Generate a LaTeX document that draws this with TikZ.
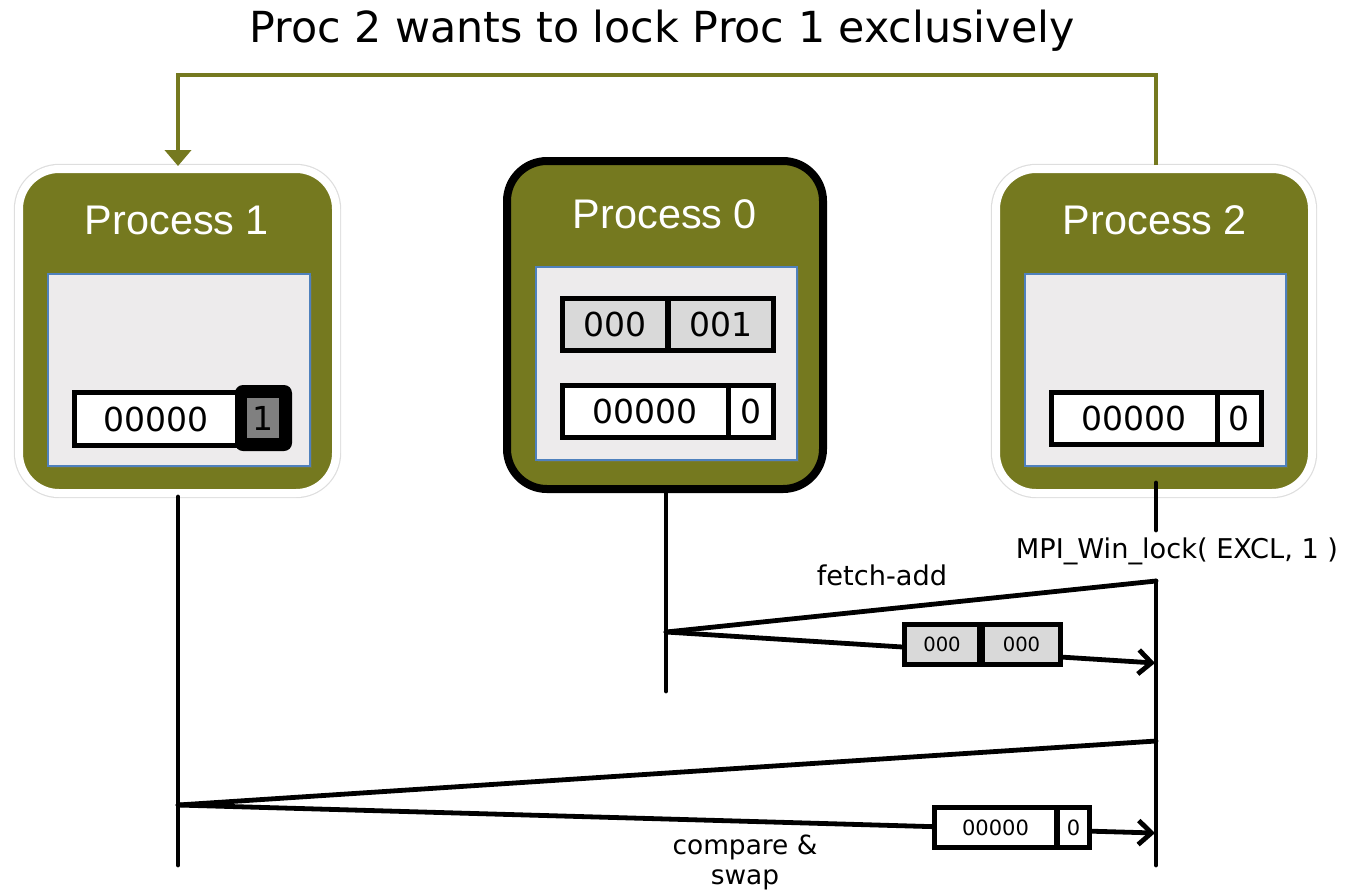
\documentclass[tikz,border=0pt]{standalone}
\usepackage{fontspec}
\setmainfont{DejaVu Sans}
\newfontfamily\arialfont{Liberation Sans}
\usetikzlibrary{arrows.meta,shadows}
\definecolor{olive}{RGB}{117,121,31}
\definecolor{memgray}{RGB}{237,235,236}
\definecolor{memblue}{RGB}{79,129,189}
\definecolor{cellgray}{RGB}{217,217,217}
\definecolor{lockgray}{RGB}{128,128,128}
\tikzset{
  procbox/.style={fill=olive, rounded corners=20pt, inner sep=0pt},
  halo/.style={procbox, draw=white, line width=4pt, preaction={draw=black!13, line width=5.2pt}},
  bold/.style={procbox, draw=black, line width=4pt},
  proctitle/.style={font=\arialfont\fontsize{20.7}{24}\selectfont, text=white},
  mem/.style={fill=memgray, draw=memblue, line width=0.6pt, inner sep=0pt,
     drop shadow={opacity=0.25, shadow xshift=1.2pt, shadow yshift=-1.2pt}},
  cell/.style={draw=black, line width=2.5pt, inner sep=0pt, font=\fontsize{16.5}{20}\selectfont},
  smallcell/.style={draw=black, line width=2.5pt, inner sep=0pt},
  tl/.style={line width=2.4pt, line cap=round, line join=round},
  msg/.style={tl, -{Straight Barb[length=6.5pt,width=12pt,line width=2.4pt]}},
  lbl/.style={font=\fontsize{13.6}{16}\selectfont},
}
\begin{document}
\begin{tikzpicture}[x=0.5pt,y=-0.5pt]
\useasboundingbox (0,0) rectangle (1348,891);

% title
\node[font=\fontsize{21.4}{26}\selectfont] (title) at (662,31) {Proc 2 wants to lock Proc 1 exclusively};

% process boxes
\node[halo, minimum width=158.5pt, minimum height=162pt] (p1) at (177.5,331) {};
\node[bold, minimum width=158pt, minimum height=164pt] (p0) at (665,325) {};
\node[halo, minimum width=158pt, minimum height=162pt] (p2) at (1154,331) {};

\node[proctitle] (p1t) at (177,220) {Process 1};
\node[proctitle] (p0t) at (665,214) {Process 0};
\node[proctitle] (p2t) at (1155,220) {Process 2};

% memory windows
\node[mem, minimum width=131pt, minimum height=96pt] (m1) at (179,370) {};
\node[mem, minimum width=130.5pt, minimum height=96.5pt] (m0) at (666.5,363.5) {};
\node[mem, minimum width=130.5pt, minimum height=96pt] (m2) at (1155.5,370) {};

% Process 1 register
\node[cell, fill=white, minimum width=82pt, minimum height=26.5pt] (r1a) at (156,419) {00000};
\node[fill=black, rounded corners=4pt, minimum width=28.5pt, minimum height=33pt, inner sep=0pt] (r1b) at (263.5,418) {};
\node[fill=lockgray, minimum width=16pt, minimum height=20pt, inner sep=0pt, font=\fontsize{16.5}{20}\selectfont] (r1c) at (263,418) {1};

% Process 0 registers
\node[cell, fill=cellgray, minimum width=52.75pt, minimum height=26pt] (r0a) at (615,324.5) {000};
\node[cell, fill=cellgray, minimum width=52.75pt, minimum height=26pt] (r0b) at (720.75,324.5) {001};
\node[cell, fill=white, minimum width=82.75pt, minimum height=26pt] (r0c) at (645.25,411.5) {00000};
\node[cell, fill=white, minimum width=22.75pt, minimum height=26pt] (r0d) at (750.75,411.5) {0};

% Process 2 register
\node[cell, fill=white, minimum width=82.75pt, minimum height=26pt] (r2a) at (1134.25,418.5) {00000};
\node[cell, fill=white, minimum width=22.25pt, minimum height=26pt] (r2b) at (1239.25,418.5) {0};

% green lock request arrow
\coordinate (gtop2) at (1156,75);
\coordinate (gtop1) at (178,75);
\draw[olive, line width=2pt, -{Triangle[length=8pt,width=13pt]}]
  (p2.north -| gtop2) -- (gtop2) -- (gtop1) -- (178,166);

% timelines
\coordinate (t1a) at (178,497);
\coordinate (t1b) at (178,865);
\coordinate (t0a) at (666,493);
\coordinate (t0b) at (666,691);
\coordinate (t2a) at (1156,483);
\coordinate (t2b) at (1156,530);
\coordinate (t2c) at (1156,581);
\coordinate (t2d) at (1156,865);
\draw[tl] (t1a) -- (t1b);
\draw[tl] (t0a) -- (t0b);
\draw[tl] (t2a) -- (t2b);
\draw[tl] (t2c) -- (t2d);

\node[lbl] (lock) at (1177,551) {MPI\_Win\_lock( EXCL, 1 )};

% fetch-add
\coordinate (fa0) at (666,632);
\coordinate (fatip) at (1155,663);
\draw[tl] (t2c) -- (fa0);
\draw[msg] (fa0) -- (fatip);
\node[lbl] (fal) at (882,575) {fetch-add};
\node[smallcell, fill=cellgray, minimum width=37.5pt, minimum height=20pt, font=\fontsize{9.8}{12}\selectfont] (fb1) at (942,644.5) {000};
\node[smallcell, fill=cellgray, minimum width=38.75pt, minimum height=20pt, font=\fontsize{9.8}{12}\selectfont] (fb2) at (1021.5,644.5) {000};

% compare & swap
\coordinate (cs0) at (178,805);
\coordinate (cs1) at (1156,741);
\coordinate (cstip) at (1155,833);
\draw[tl] (cs1) -- (cs0);
\draw[msg] (cs0) -- (cstip);
\node[smallcell, fill=white, minimum width=60.75pt, minimum height=20pt, font=\fontsize{10.5}{12}\selectfont] (cb1) at (995.5,827.5) {00000};
\node[smallcell, fill=white, minimum width=16.25pt, minimum height=20pt, font=\fontsize{10.5}{12}\selectfont] (cb2) at (1073.5,827.5) {0};
\node[lbl, align=center, font=\fontsize{13.2}{15}\selectfont] (csl) at (745,862) {compare \&\\swap};
\end{tikzpicture}
\end{document}
